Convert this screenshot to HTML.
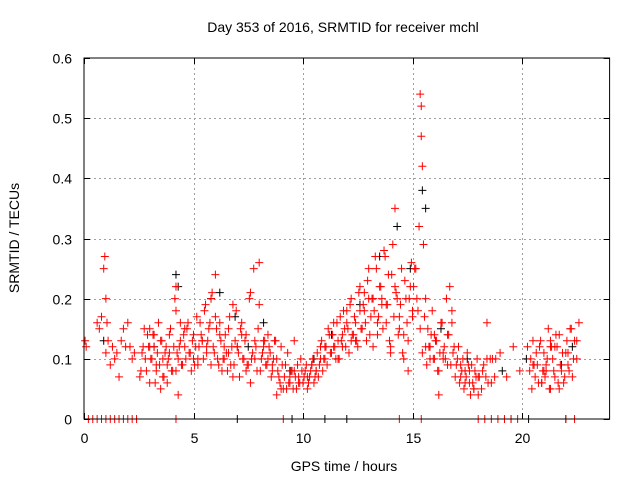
<!DOCTYPE html>
<html><head><meta charset="utf-8"><style>
body{margin:0;background:#fff;}
svg{display:block;font-family:"Liberation Sans",sans-serif;}
</style></head><body>
<svg id="chart" width="640" height="480" viewBox="0 0 640 480">
<rect width="640" height="480" fill="#fff"/>
<g id="grid"></g>
<g id="ticks"></g>
<g id="blackpts"></g>
<g id="redpts"></g>
<rect x="84" y="58" width="525.6" height="361" fill="none" stroke="#000" stroke-width="1"/>
<text x="343" y="32" text-anchor="middle" font-size="14">Day 353 of 2016, SRMTID for receiver mchl</text>
<text x="344" y="471" text-anchor="middle" font-size="14">GPS time / hours</text>
<text transform="translate(19,238) rotate(-90)" text-anchor="middle" font-size="14">SRMTID / TECUs</text>
</svg>
<script>
const xTicks=[0,5,10,15,20];
const yTicks=[0,0.1,0.2,0.3,0.4,0.5,0.6];
const yTickLabels=["0","0.1","0.2","0.3","0.4","0.5","0.6"];
const redT=[0.05,0.1,0.6,0.7,0.8,0.9,0.95,1.0,1.0,1.05,1.1,1.2,1.3,1.4,1.5,1.6,1.7,1.8,1.9,2.0,2.1,2.2,2.3,
2.6,2.7,2.8,2.9,3.0,3.0,3.1,3.2,3.3,3.4,3.5,3.5,3.6,3.7,3.8,3.9,4.0,4.1,4.2,4.2,4.3,4.3,4.4,4.5,4.6,
4.7,4.8,4.9,5.0,5.1,5.2,5.3,5.4,5.5,5.6,5.7,5.8,5.9,6.0,6.0,6.1,6.2,6.3,6.4,6.5,6.6,6.7,6.8,6.9,
7.0,7.1,7.2,7.3,7.4,7.5,7.6,7.7,7.8,7.9,8.0,8.0,8.1,8.2,8.3,8.4,8.5,8.6,8.7,8.8,8.9,9.0,9.1,9.2,
9.3,9.4,9.5,9.6,9.7,9.8,9.9,10.0,10.1,10.2,10.3,10.4,10.5,10.6,10.7,10.8,10.9,11.0,11.1,11.2,11.3,
11.4,11.5,11.6,11.7,11.8,11.9,12.0,12.1,12.2,12.3,12.4,12.5,12.6,12.7,12.8,12.9,13.0,13.1,13.2,13.3,
13.4,13.5,13.6,13.7,13.8,13.9,14.0,14.1,14.2,14.3,14.4,14.5,14.6,14.7,14.8,14.9,15.0,15.1,15.2,15.3,
15.35,15.4,15.4,15.45,15.5,15.6,15.7,15.8,15.9,16.0,16.1,16.2,16.3,16.4,16.5,16.6,16.7,16.8,16.9,
17.0,17.1,17.2,17.3,17.4,17.5,17.6,17.7,17.8,17.9,18.0,18.2,18.4,18.6,18.8,19.0,19.3,19.6,19.9,
20.4,20.5,20.6,20.7,20.8,20.9,21.0,21.1,21.2,21.3,21.4,21.5,21.6,21.7,21.8,21.9,22.0,22.1,22.2,22.3,22.4,22.5,22.6,
3.0,3.3,3.6,3.9,4.2,4.6,5.0,5.4,5.8,6.2,6.6,7.0,7.4,7.8,8.2,8.6,9.0,9.4,9.8,10.2,10.6,11.0,11.4,11.8,
12.2,12.6,13.0,13.4,13.8,14.2,14.6,15.0,15.6,16.0,16.4,16.8,17.2,17.6,18.0,18.4,20.5,20.9,21.3,21.7,22.1,22.5,
3.2,3.8,4.4,5.2,5.6,6.4,6.8,7.2,7.6,8.4,8.8,9.6,10.4,10.8,11.6,12.0,12.4,12.8,13.2,13.6,14.0,14.4,14.8,15.8,16.2,16.6,17.4,17.8,21.0,21.5,22.0,22.4,
0.2,0.4,0.6,0.8,1.0,1.2,1.4,1.6,1.8,2.0,2.2,2.4,4.2,9.1,14.4,15.4,18.0,18.3,18.6,18.9,19.2,19.5,19.8,21.1,21.3,
2.55,2.65,2.75,2.85,2.95,3.05,3.15,3.25,3.35,3.45,
3.55,3.65,3.75,3.85,3.95,4.05,4.15,4.25,4.35,4.45,
4.55,4.65,4.75,4.85,4.95,5.05,5.15,5.25,5.35,5.45,
5.55,5.65,5.75,5.85,5.95,6.05,6.15,6.25,6.35,6.45,
6.55,6.65,6.75,6.85,6.95,7.05,7.15,7.25,7.35,7.45,
7.55,7.65,7.75,7.85,7.95,8.05,8.15,8.25,8.35,8.45,
8.55,8.65,8.75,8.85,8.95,9.05,9.15,9.25,9.35,9.45,
9.55,9.65,9.75,9.85,9.95,10.05,10.15,10.25,10.35,10.45,
10.55,10.65,10.75,10.85,10.95,11.05,11.15,11.25,11.35,11.45,
11.55,11.65,11.75,11.85,11.95,12.05,12.15,12.25,12.35,12.45,
12.55,12.65,12.75,12.85,12.95,13.05,13.15,13.25,13.35,13.45,
13.55,13.65,13.75,13.85,13.95,14.05,14.15,14.25,14.35,14.45,
14.55,14.65,14.75,14.85,14.95,15.05,15.15,15.25,15.35,15.45,
15.55,15.65,15.75,15.85,15.95,16.05,16.15,16.25,16.35,16.45,
16.55,16.65,16.75,16.85,16.95,17.05,17.15,17.25,17.35,17.45,
17.55,17.65,17.75,17.85,17.95,18.05,18.15,18.25,18.35,18.45,
18.55,18.65,18.75,
20.25,20.35,20.45,20.55,20.65,20.75,20.85,20.95,21.05,21.15,
21.25,21.35,21.45,21.55,21.65,21.75,21.85,21.95,22.05,22.15,
22.25,22.35,22.45,22.55];
const redV=[0.13,0.12,0.16,0.15,0.17,0.25,0.27,0.2,0.11,0.16,0.13,0.09,0.12,0.1,0.11,0.07,0.13,0.15,0.12,0.16,0.12,0.1,0.11,
0.08,0.12,0.1,0.14,0.06,0.15,0.1,0.12,0.08,0.16,0.05,0.13,0.1,0.11,0.09,0.14,0.08,0.12,0.22,0.18,0.04,0.1,0.13,0.09,0.12,
0.15,0.11,0.08,0.14,0.12,0.1,0.16,0.13,0.18,0.11,0.15,0.2,0.12,0.24,0.17,0.1,0.14,0.08,0.12,0.11,0.15,0.09,0.19,0.13,
0.12,0.07,0.16,0.1,0.14,0.09,0.21,0.11,0.13,0.08,0.26,0.19,0.1,0.12,0.09,0.14,0.11,0.08,0.13,0.1,0.07,0.12,0.05,0.09,
0.11,0.06,0.08,0.13,0.05,0.07,0.1,0.06,0.08,0.05,0.07,0.09,0.06,0.08,0.07,0.1,0.08,0.12,0.09,0.14,0.11,
0.16,0.1,0.13,0.17,0.12,0.15,0.18,0.11,0.2,0.14,0.16,0.12,0.22,0.15,0.18,0.13,0.25,0.17,0.2,0.27,
0.14,0.22,0.19,0.28,0.16,0.24,0.12,0.29,0.35,0.2,0.15,0.25,0.1,0.2,0.13,0.22,0.18,0.25,0.2,0.32,
0.54,0.52,0.47,0.42,0.29,0.2,0.15,0.12,0.18,0.1,0.13,0.08,0.16,0.11,0.1,0.14,0.22,0.18,0.12,
0.09,0.12,0.07,0.1,0.08,0.11,0.06,0.09,0.05,0.07,0.04,0.08,0.16,0.06,0.1,0.11,0.07,0.12,0.08,
0.1,0.13,0.07,0.09,0.12,0.06,0.11,0.08,0.15,0.05,0.1,0.07,0.12,0.14,0.08,0.06,0.11,0.09,0.15,0.07,0.13,0.1,0.16,
0.12,0.09,0.07,0.11,0.08,0.15,0.1,0.13,0.09,0.16,0.11,0.12,0.08,0.1,0.13,0.09,0.05,0.07,0.06,0.07,0.08,0.1,0.12,0.14,
0.13,0.18,0.2,0.16,0.19,0.22,0.14,0.17,0.12,0.14,0.1,0.16,0.09,0.08,0.07,0.1,0.09,0.06,0.12,0.05,0.11,0.13,
0.14,0.06,0.16,0.09,0.12,0.1,0.07,0.14,0.06,0.1,0.04,0.08,0.09,0.12,0.1,0.16,0.13,0.21,0.12,0.2,0.11,0.17,0.08,0.1,0.04,0.09,0.06,0.05,0.08,0.12,
0,0,0,0,0,0,0,0,0,0,0,0,0,0,0,0,0,0,0,0,0,0,0,0,0,
0.09,0.13,0.07,0.11,0.15,0.08,0.12,0.1,0.14,0.06,
0.11,0.09,0.13,0.07,0.12,0.1,0.15,0.08,0.2,0.11,
0.12,0.09,0.14,0.1,0.16,0.11,0.13,0.09,0.17,0.12,
0.14,0.1,0.19,0.13,0.16,0.21,0.11,0.15,0.09,0.13,
0.1,0.14,0.08,0.17,0.12,0.09,0.18,0.11,0.15,0.1,
0.13,0.09,0.2,0.1,0.25,0.12,0.15,0.08,0.11,0.13,
0.09,0.12,0.07,0.1,0.13,0.08,0.06,0.09,0.07,0.05,
0.06,0.08,0.05,0.07,0.09,0.06,0.08,0.07,0.09,0.06,
0.08,0.1,0.07,0.11,0.09,0.13,0.1,0.12,0.15,0.11,
0.14,0.12,0.16,0.1,0.13,0.18,0.12,0.15,0.19,0.14,
0.17,0.13,0.21,0.15,0.19,0.16,0.23,0.14,0.2,0.18,
0.25,0.17,0.22,0.15,0.27,0.19,0.13,0.24,0.17,0.21,
0.14,0.19,0.11,0.23,0.16,0.2,0.26,0.22,0.25,0.18,
0.15,0.11,0.17,0.09,0.12,0.14,0.1,0.13,0.08,0.11,
0.16,0.12,0.2,0.14,0.09,0.11,0.07,0.1,0.06,0.08,
0.05,0.07,0.09,0.04,0.06,0.08,0.1,0.07,0.05,0.09,
0.07,0.06,0.1,
0.1,0.07,0.12,0.08,0.05,0.09,0.11,0.06,0.13,0.08,
0.07,0.1,0.05,0.12,0.08,0.14,0.06,0.09,0.11,0.07,
0.13,0.08,0.15,0.1];
const blackT=[0.9,3.2,4.2,4.3,5.8,6.2,6.9,7.5,8.2,9.4,10.5,11.3,12.6,13.5,14.3,14.9,15.45,15.6,16.3,17.5,19.1,20.2,21.8,22.3,7.0,9.5,11.0,12.0,19.5,20.3,22.0];
const blackV=[0.13,0.12,0.24,0.22,0.2,0.21,0.17,0.12,0.16,0.08,0.1,0.14,0.19,0.27,0.32,0.25,0.38,0.35,0.15,0.1,0.08,0.1,0.09,0.12,0,0,0,0,0,0,0];
const X0=84,X1=609.6,Y0=419,Y1=58;
function xs(t){return X0+(t/24)*(X1-X0);}
function ys(v){return Y0-(v/0.6)*(Y0-Y1);}
const NS="http://www.w3.org/2000/svg";
const grid=document.getElementById('grid'),ticks=document.getElementById('ticks');
function line(g,x1,y1,x2,y2,st,da){const l=document.createElementNS(NS,'line');l.setAttribute('x1',x1);l.setAttribute('y1',y1);l.setAttribute('x2',x2);l.setAttribute('y2',y2);l.setAttribute('stroke',st);if(da)l.setAttribute('stroke-dasharray',da);g.appendChild(l);return l;}
function txt(x,y,s,anchor){const t=document.createElementNS(NS,'text');t.setAttribute('x',x);t.setAttribute('y',y);t.setAttribute('font-size','14');t.setAttribute('text-anchor',anchor);t.textContent=s;ticks.appendChild(t);return t;}
yTicks.forEach((v,i)=>{const y=Math.round(ys(v))+0.5;
 if(v>0&&v<0.6){const gl=line(grid,X0,y,X1,y,'#a0a0a0','2,3');
 
 }
 line(ticks,X0,y,X0+6,y,'#000');line(ticks,X1-6,y,X1,y,'#000');
 const t=txt(X0-12,y+5,yTickLabels[i],'end');
 
 });
xTicks.forEach(v=>{const x=Math.round(xs(v))+0.5;
 if(v>0){const gl=line(grid,x,Y1,x,Y0,'#a0a0a0','2,3');
 
 }
 line(ticks,x,Y0,x,Y0-6,'#000');line(ticks,x,Y1,x,Y1+6,'#000');
 const t=txt(x,Y0+24,String(v),'middle');
 
 });
function plus(g,t,v,col,name){const x=xs(t),y=ys(v);const p=document.createElementNS(NS,'path');
 p.setAttribute('d',`M${x-4},${y}H${x+4}M${x},${y-4}V${y+4}`);p.setAttribute('stroke',col);p.setAttribute('stroke-width','1');
 
 
 g.appendChild(p);}
const bg=document.getElementById('blackpts'),rg=document.getElementById('redpts');
blackT.forEach((t,i)=>plus(bg,t,blackV[i],'#000','black-point'));
redT.forEach((t,i)=>plus(rg,t,redV[i],'#ff0000','red-point'));
</script>
</body></html>
